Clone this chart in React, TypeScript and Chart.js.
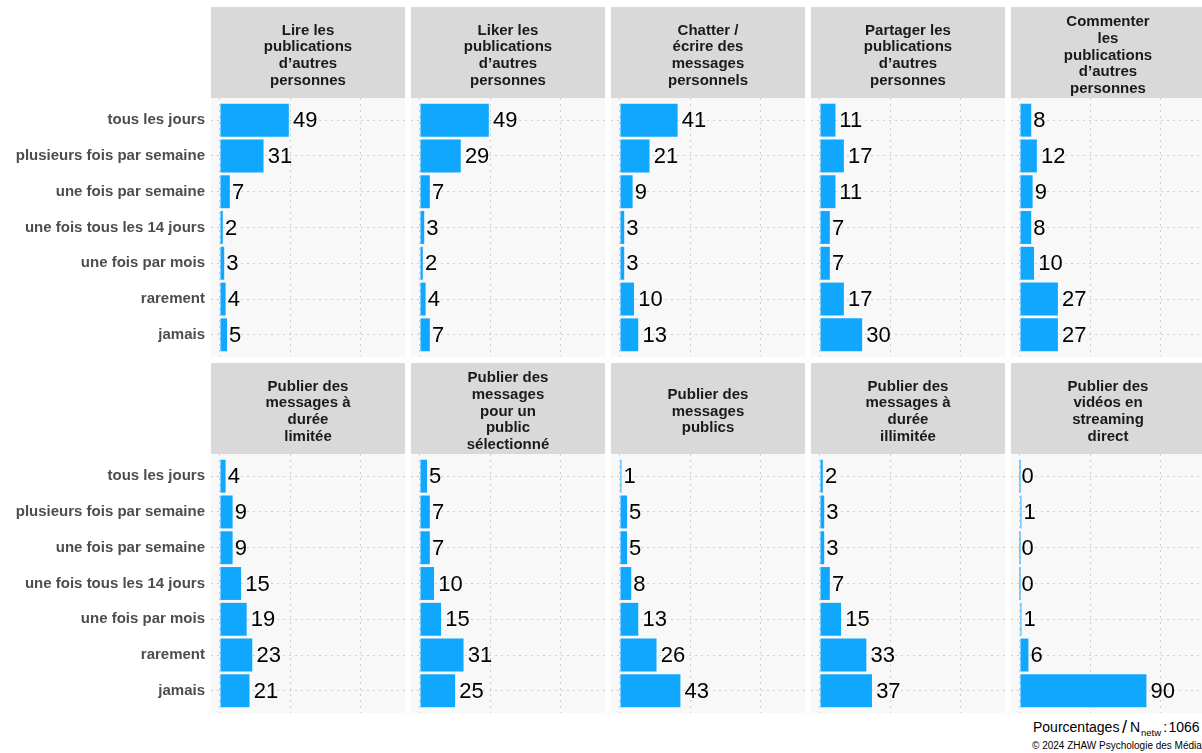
import React, { useEffect, useRef } from "react";
import { Chart, registerables } from "chart.js";

Chart.register(...registerables);

// ---------- data ----------
const categories = [
  "tous les jours",
  "plusieurs fois par semaine",
  "une fois par semaine",
  "une fois tous les 14 jours",
  "une fois par mois",
  "rarement",
  "jamais",
];

const titleLire = ["Lire les", "publications", "d\u2019autres", "personnes"];
const titleLiker = ["Liker les", "publications", "d\u2019autres", "personnes"];
const titleChatter = ["Chatter /", "\u00e9crire des", "messages", "personnels"];
const titlePartager = ["Partager les", "publications", "d\u2019autres", "personnes"];
const titleCommenter = ["Commenter", "les", "publications", "d\u2019autres", "personnes"];
const titleLimitee = ["Publier des", "messages \u00e0", "dur\u00e9e", "limit\u00e9e"];
const titleSelection = ["Publier des", "messages", "pour un", "public", "s\u00e9lectionn\u00e9"];
const titlePublics = ["Publier des", "messages", "publics"];
const titleIllimitee = ["Publier des", "messages \u00e0", "dur\u00e9e", "illimit\u00e9e"];
const titleStreaming = ["Publier des", "vid\u00e9os en", "streaming", "direct"];

const valuesLire = [49, 31, 7, 2, 3, 4, 5];
const valuesLiker = [49, 29, 7, 3, 2, 4, 7];
const valuesChatter = [41, 21, 9, 3, 3, 10, 13];
const valuesPartager = [11, 17, 11, 7, 7, 17, 30];
const valuesCommenter = [8, 12, 9, 8, 10, 27, 27];
const valuesLimitee = [4, 9, 9, 15, 19, 23, 21];
const valuesSelection = [5, 7, 7, 10, 15, 31, 25];
const valuesPublics = [1, 5, 5, 8, 13, 26, 43];
const valuesIllimitee = [2, 3, 3, 7, 15, 33, 37];
const valuesStreaming = [0, 1, 0, 0, 1, 6, 90];

const xGridValues = [0, 50, 100];

const panels = [
  { title: titleLire, values: valuesLire },
  { title: titleLiker, values: valuesLiker },
  { title: titleChatter, values: valuesChatter },
  { title: titlePartager, values: valuesPartager },
  { title: titleCommenter, values: valuesCommenter },
  { title: titleLimitee, values: valuesLimitee },
  { title: titleSelection, values: valuesSelection },
  { title: titlePublics, values: valuesPublics },
  { title: titleIllimitee, values: valuesIllimitee },
  { title: titleStreaming, values: valuesStreaming },
];

// ---------- styles ----------
const FONT = "'Liberation Sans', Arial, Helvetica, sans-serif";
const BAR_COLOR = "#10A8FF";
const STRIP_COLOR = "#D9D9D9";
const PANEL_BG = "#F8F8F8";
const GRID_COLOR = "#CFCFCF";
const GRID_DASH = [2, 4];
const STRIP_H = 91;
const PANEL_H = 259;
const LABEL_W = 211;
const PANEL_W = 194;
const X_MIN = -6.4;
const X_MAX = 131.7;
const TITLE_SIZE = 15;
const TITLE_LH = 16.7;
const TITLE_SHIFT = 3;

const backgroundPlugin = {
  id: "facetBackground",
  beforeDraw(chart: any) {
    const { ctx, chartArea } = chart;
    ctx.save();
    ctx.fillStyle = STRIP_COLOR;
    ctx.fillRect(chartArea.left, 0, chartArea.right - chartArea.left, chartArea.top);
    ctx.fillStyle = PANEL_BG;
    ctx.fillRect(chartArea.left, chartArea.top, chartArea.right - chartArea.left, chartArea.bottom - chartArea.top);
    ctx.restore();
  },
};

const valueLabelPlugin = {
  id: "valueLabels",
  afterDatasetsDraw(chart: any) {
    const ctx = chart.ctx;
    const meta = chart.getDatasetMeta(0);
    const ds = chart.data.datasets[0];
    ctx.save();
    ctx.font = `22px ${FONT}`;
    ctx.fillStyle = "#000000";
    ctx.textAlign = "left";
    ctx.textBaseline = "middle";
    meta.data.forEach((bar: any, i: number) => {
      const txt = String(ds.data[i].x);
      const w = ctx.measureText(txt).width;
      ctx.fillText(txt, bar.x + w * 0.17, bar.y + 1);
    });
    ctx.restore();
  },
};

function Panel({ title, values, showLabels, left, top }: any) {
  const ref = useRef<HTMLCanvasElement>(null);
  const width = showLabels ? LABEL_W + PANEL_W : PANEL_W;
  const height = STRIP_H + PANEL_H;
  useEffect(() => {
    const pad = (STRIP_H - title.length * TITLE_LH) / 2;
    const chart = new Chart(ref.current as HTMLCanvasElement, {
      type: "bar",
      data: {
        datasets: [
          {
            data: values.map((v: number, i: number) => ({ x: v, y: i })),
            backgroundColor: BAR_COLOR,
            barPercentage: 0.92,
            categoryPercentage: 1,
            minBarLength: 1,
          },
        ],
      },
      options: {
        indexAxis: "y",
        animation: false,
        responsive: false,
        devicePixelRatio: 1,
        layout: { padding: 0 },
        plugins: {
          legend: { display: false },
          tooltip: { enabled: false },
          title: {
            display: true,
            text: title,
            fullSize: false,
            color: "#1A1A1A",
            font: { family: FONT, size: TITLE_SIZE, weight: "bold", lineHeight: TITLE_LH / TITLE_SIZE },
            padding: { top: pad + TITLE_SHIFT, bottom: pad - TITLE_SHIFT },
          },
        },
        scales: {
          x: {
            type: "linear",
            min: X_MIN,
            max: X_MAX,
            offset: false,
            afterBuildTicks: (s: any) => {
              s.ticks = xGridValues.map((v) => ({ value: v }));
            },
            afterFit: (s: any) => {
              s.height = 0;
              s.paddingLeft = 0;
              s.paddingRight = 0;
            },
            ticks: { display: false },
            grid: { color: GRID_COLOR, lineWidth: 1, drawTicks: false, offset: false },
            border: { display: false, dash: GRID_DASH },
          },
          y: {
            type: "linear",
            reverse: true,
            min: -0.62,
            max: 6.62,
            offset: false,
            afterBuildTicks: (s: any) => {
              s.ticks = categories.map((_, i) => ({ value: i }));
            },
            afterFit: (s: any) => {
              s.width = showLabels ? LABEL_W : 0;
              s.paddingTop = 0;
              s.paddingBottom = 0;
            },
            ticks: {
              display: showLabels,
              autoSkip: false,
              padding: 6,
              color: "#4D4D4D",
              font: { family: FONT, size: 15, weight: "bold" },
              callback: (v: any) => categories[v as number],
            },
            grid: { color: GRID_COLOR, lineWidth: 1, drawTicks: false, offset: false },
            border: { display: false, dash: GRID_DASH },
          },
        },
      },
      plugins: [backgroundPlugin, valueLabelPlugin],
    } as any);
    return () => chart.destroy();
  }, []);
  return (
    <canvas
      ref={ref}
      width={width}
      height={height}
      style={{ position: "absolute", left, top, width, height }}
    />
  );
}

export default function App() {
  const rowTops = [7, 363];
  return (
    <div
      style={{
        position: "absolute",
        left: 0,
        top: 0,
        width: 1202,
        height: 753,
        overflow: "hidden",
        background: "#FFFFFF",
        fontFamily: FONT,
      }}
    >
      {panels.map((p, i) => {
        const row = Math.floor(i / 5);
        const col = i % 5;
        const left = col === 0 ? 0 : 411 + (col - 1) * 200;
        return (
          <Panel
            key={i}
            title={p.title}
            values={p.values}
            showLabels={col === 0}
            left={left}
            top={rowTops[row]}
          />
        );
      })}
      <div
        style={{
          position: "absolute",
          left: 1033,
          top: 716,
          fontSize: 14,
          whiteSpace: "nowrap",
          color: "#000",
          lineHeight: "20px",
        }}
      >
        Pourcentages
        <span style={{ fontSize: 18, margin: "0 3px 0 2.5px", position: "relative", top: 0.5 }}>/</span>N
        <span style={{ fontSize: 9.5, position: "relative", top: 3.5, marginLeft: 1, marginRight: 2 }}>netw</span>
        <span style={{ marginRight: 1.5 }}>:</span>1066
      </div>
      <div
        style={{
          position: "absolute",
          left: 1032,
          top: 739,
          fontSize: 10,
          whiteSpace: "nowrap",
          color: "#000",
          lineHeight: "13px",
        }}
      >
        © 2024 ZHAW Psychologie des Médias
      </div>
    </div>
  );
}
